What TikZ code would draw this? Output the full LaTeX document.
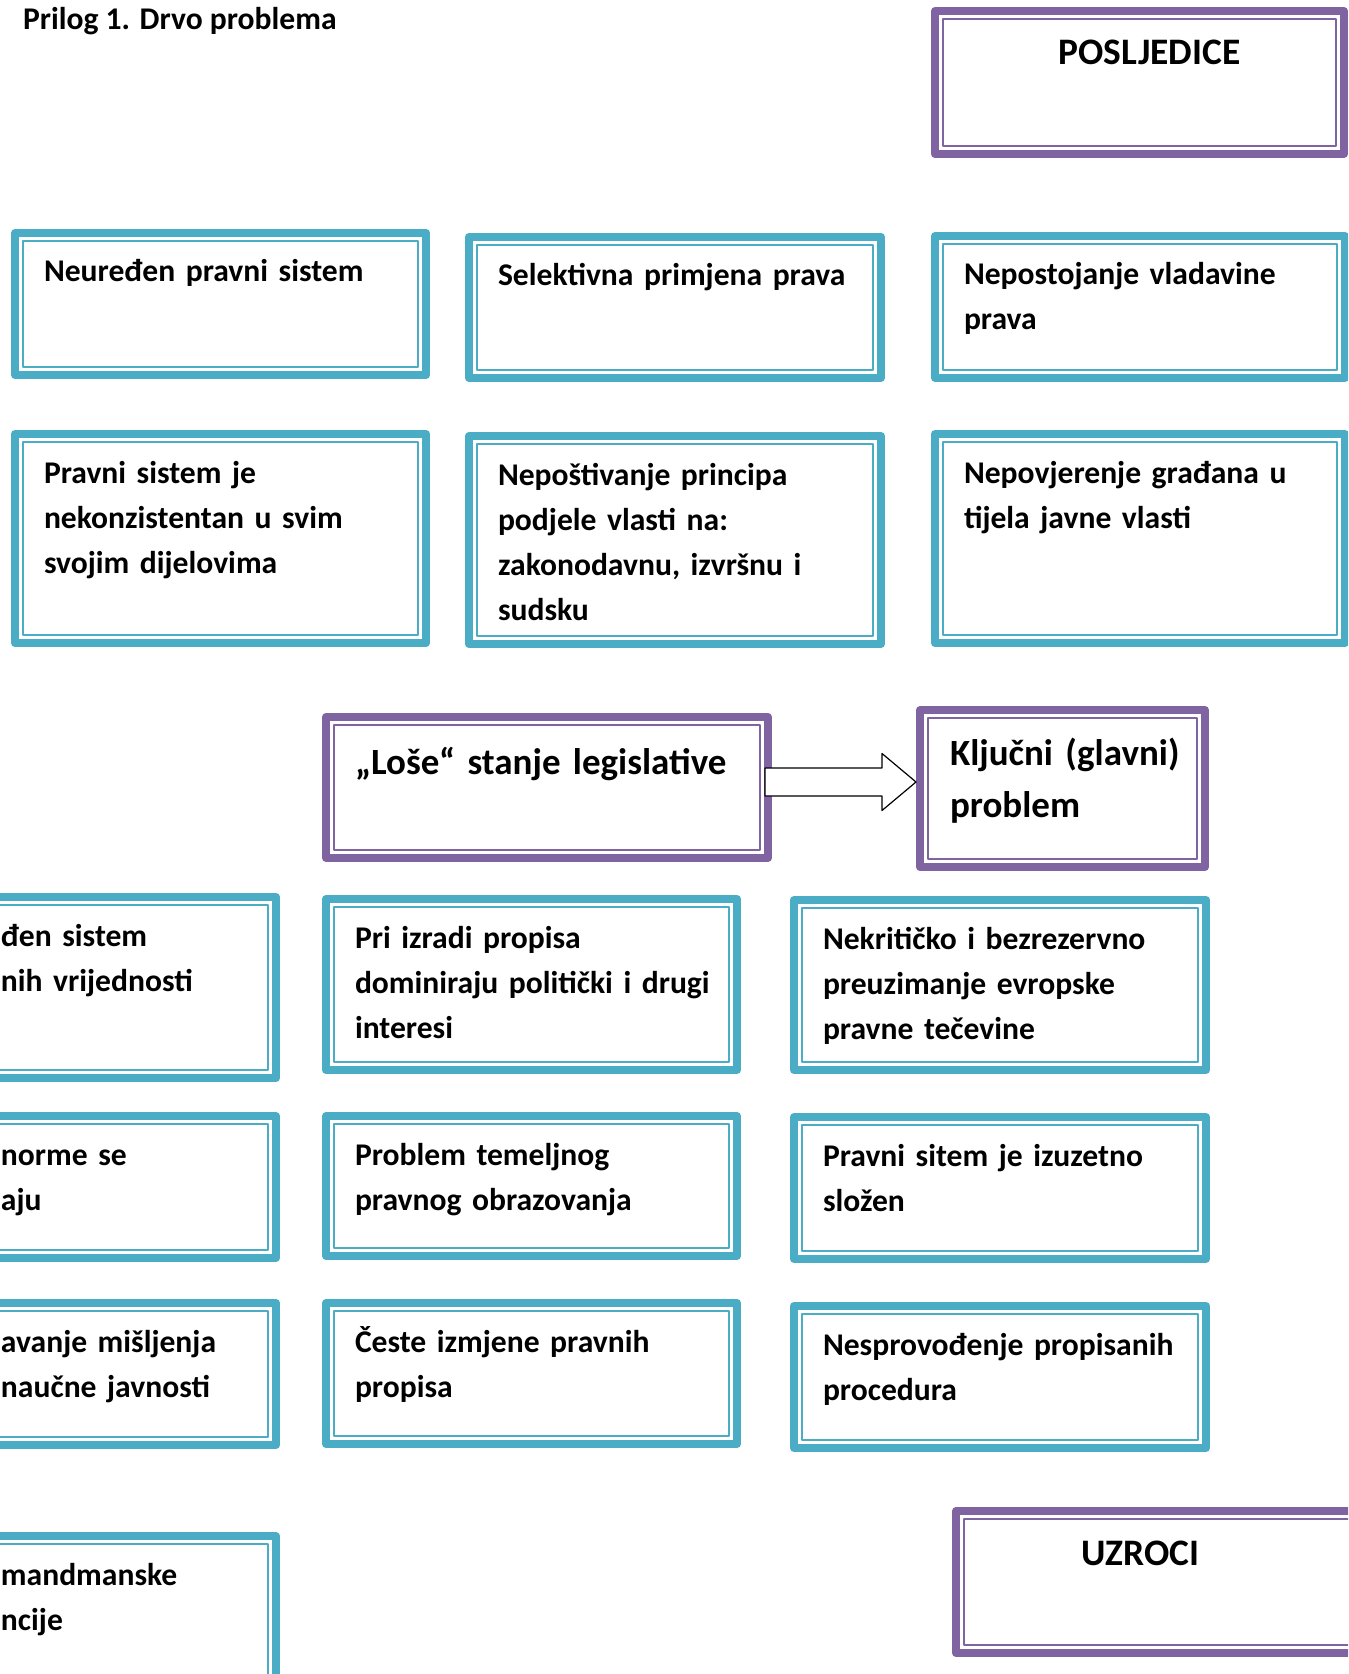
\documentclass[tikz,border=0pt]{standalone}
\usepackage{fontspec}
\setmainfont{Carlito}
\usetikzlibrary{calc,positioning}
\definecolor{plava}{HTML}{4BACC6}
\definecolor{ljubicasta}{HTML}{8064A2}
\begin{document}
\begin{tikzpicture}[x=0.5pt,y=-0.5pt,line join=round,
		okvir/.style={draw=#1,line width=4pt,inner sep=0pt,outer sep=0pt,anchor=north west,
			path picture={\draw[#1,line width=0.9pt] ([shift={(3.85pt,3.85pt)}]path picture bounding box.south west) rectangle ([shift={(-3.85pt,-3.85pt)}]path picture bounding box.north east);}},
		natpis/.style={font=\fontsize{15.8}{22.5}\selectfont\bfseries,anchor=base west,inner sep=0pt,outer sep=0pt},
		tekst/.style={natpis,align=left,text width=215pt},
		veliki/.style={tekst,font=\fontsize{18.5}{26}\selectfont\bfseries},
		strelica/.style={draw=black,fill=white,line width=0.6pt}]
			\useasboundingbox (0,0) rectangle (1348,1674);
			\clip (0,0) rectangle (1348,1674);
			% okviri: ime/x/y/sirina/visina/boja (px)
			\foreach \ime/\x/\y/\w/\h/\boja in {
				posljedice/931/7/417/151/ljubicasta,
				p1/11/229/419/150/plava, p2/465/233/420/149/plava, p3/931/232/418/150/plava,
				p4/11/430/419/217/plava, p5/465/432/420/216/plava, p6/931/430/418/217/plava,
				lose/322/713/450/149/ljubicasta, kljucni/916/706/293/165/ljubicasta,
				u1/-139/893/419/189/plava, u2/322/895/419/179/plava, u3/790/896/420/178/plava,
				u4/-139/1112/419/150/plava, u5/322/1112/419/148/plava, u6/790/1113/420/150/plava,
				u7/-139/1299/419/150/plava, u8/322/1299/419/149/plava, u9/790/1302/420/150/plava,
				u10/-139/1532/419/160/plava,
				uzroci/952/1507/417/150/ljubicasta}
				\node[okvir=\boja,minimum width=(\w-8)*0.5pt,minimum height=(\h-8)*0.5pt] (\ime) at (\x+4,\y+4) {};
			% naslov
			\node[natpis,font=\fontsize{15.8}{18}\selectfont\bfseries] (naslov) at (23,30) {Prilog 1. Drvo problema};
			\node[natpis,font=\fontsize{18.7}{26}\selectfont\bfseries,anchor=base] (t_posljedice) at ($(posljedice.north)+(10,54)$) {POSLJEDICE};
			\node[natpis,font=\fontsize{18.7}{26}\selectfont\bfseries,anchor=base] (t_uzroci) at ($(uzroci.north)+(-20,54)$) {UZROCI};
			% posljedice
			\node[tekst] (t_p1) at ($(p1.north west)+(29,49)$) {Neuređen pravni sistem};
			\node[tekst] (t_p2) at ($(p2.north west)+(29,49)$) {Selektivna primjena prava};
			\node[tekst] (t_p3) at ($(p3.north west)+(29,49)$) {Nepostojanje vladavine\\prava};
			\node[tekst] (t_p4) at ($(p4.north west)+(29,49)$) {Pravni sistem je\\nekonzistentan u svim\\svojim dijelovima};
			\node[tekst] (t_p5) at ($(p5.north west)+(29,49)$) {Nepoštivanje principa\\podjele vlasti na:\\zakonodavnu, izvršnu i\\sudsku};
			\node[tekst] (t_p6) at ($(p6.north west)+(29,49)$) {Nepovjerenje građana u\\tijela javne vlasti};
			% problem
			\node[veliki] (t_lose) at ($(lose.north west)+(29,57)$) {„Loše“ stanje legislative};
			\node[veliki] (t_kljucni) at ($(kljucni.north west)+(30,55)$) {Ključni (glavni)\\problem};
			% uzroci
			\node[tekst] (t_u1) at ($(u1.north east)+(-275,49)$) {đen sistem\\nih vrijednosti};
			\node[tekst] (t_u2) at ($(u2.north west)+(29,49)$) {Pri izradi propisa\\dominiraju politički i drugi\\interesi};
			\node[tekst] (t_u3) at ($(u3.north west)+(29,49)$) {Nekritičko i bezrezervno\\preuzimanje evropske\\pravne tečevine};
			\node[tekst] (t_u4) at ($(u4.north east)+(-275,49)$) {norme se\\aju};
			\node[tekst] (t_u5) at ($(u5.north west)+(29,49)$) {Problem temeljnog\\pravnog obrazovanja};
			\node[tekst] (t_u6) at ($(u6.north west)+(29,49)$) {Pravni sitem je izuzetno\\složen};
			\node[tekst] (t_u7) at ($(u7.north east)+(-275,49)$) {avanje mišljenja\\naučne javnosti};
			\node[tekst] (t_u8) at ($(u8.north west)+(29,49)$) {Česte izmjene pravnih\\propisa};
			\node[tekst] (t_u9) at ($(u9.north west)+(29,49)$) {Nesprovođenje propisanih\\procedura};
			\node[tekst] (t_u10) at ($(u10.north east)+(-275,49)$) {mandmanske\\ncije};
			% strelica
			\draw[strelica] let \p1=($(lose.east)+(-3,-5.5)$), \p2=($(kljucni.west)+(-4,0)$) in
				(\x1,\y1+7pt) -- (\x2-17pt,\y1+7pt) -- (\x2-17pt,\y1+14.25pt) -- (\x2,\y1)
				-- (\x2-17pt,\y1-14.25pt) -- (\x2-17pt,\y1-7pt) -- (\x1,\y1-7pt) -- cycle;
		\end{tikzpicture}
\end{document}
